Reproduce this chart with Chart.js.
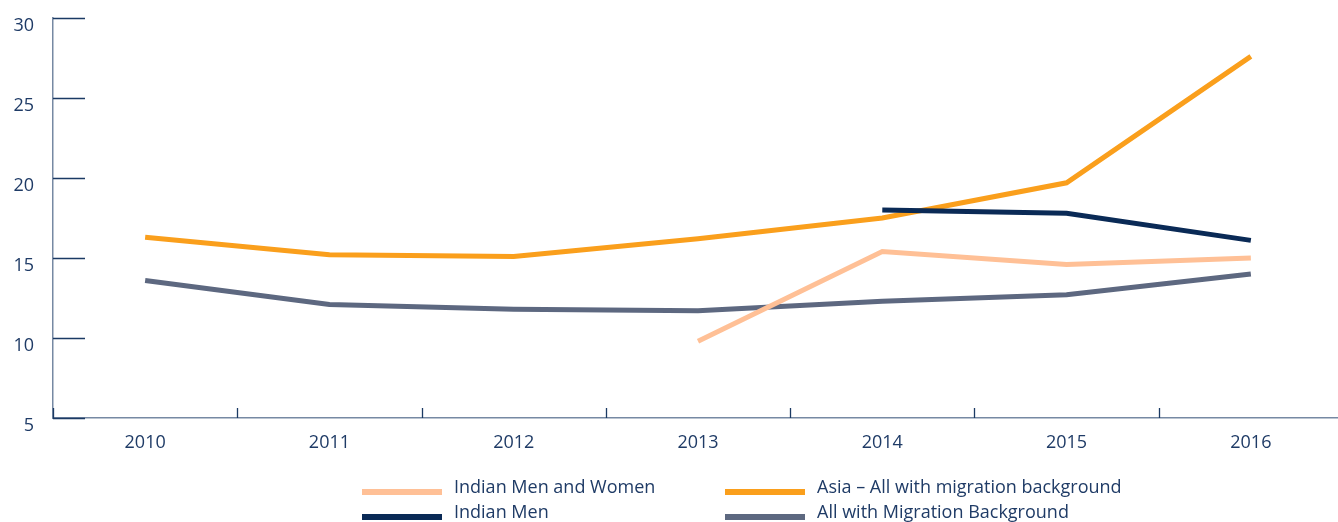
<!DOCTYPE html>
<html>
<head>
<meta charset="utf-8">
<script src="https://cdn.jsdelivr.net/npm/chart.js@4/dist/chart.umd.min.js"></script>
<style>
  html, body { margin: 0; padding: 0; background: #fff; overflow: hidden; }
  #wrap { position: absolute; left: 0; top: 0; width: 1343px; height: 522px; }
  #legend {
    position: absolute; left: 362px; top: 476px;
    display: grid; grid-template-columns: 363px auto; grid-auto-rows: 25.5px;
    font: 18px "Open Sans", sans-serif; color: #1f3b66;
  }
  #legend .item { display: flex; align-items: center; white-space: nowrap; }
  #legend .swatch { width: 80px; height: 6px; margin-right: 12px; position: relative; top: 3px; }
  #legend .txt { position: relative; top: -3px; }
</style>
</head>
<body>
<div id="wrap"><canvas id="chart"></canvas></div>
<div id="legend"></div>
<script>
/* ===== Data ===== */
const YEARS = ['2010', '2011', '2012', '2013', '2014', '2015', '2016'];
const INDIAN_ALL   = [null, null, null, 9.8, 15.4, 14.6, 15.0];
const ASIA_MIGR    = [16.3, 15.2, 15.1, 16.2, 17.5, 19.7, 27.6];
const INDIAN_MEN   = [null, null, null, null, 18.0, 17.8, 16.1];
const ALL_MIGR     = [13.6, 12.1, 11.8, 11.7, 12.3, 12.7, 14.0];
const Y_MIN = 5, Y_MAX = 30, Y_STEP = 5;

const TEXT = '#1f3b66';
const AXIS = '#7689a3';
const TICK = '#1b3a64';
const FONT = { family: '"Open Sans", sans-serif', size: 18 };

function series(label, data, color, order) {
  return {
    label, data, order,
    borderColor: color, backgroundColor: color,
    borderWidth: 5, pointRadius: 0, tension: 0,
    borderJoinStyle: 'miter', borderCapStyle: 'butt', spanGaps: false
  };
}

// short inner tick marks instead of full grid lines
const innerTicks = {
  id: 'innerTicks',
  afterDraw(chart) {
    const { ctx, chartArea: a, scales: { x, y } } = chart;
    ctx.save();
    ctx.strokeStyle = TICK;
    ctx.lineWidth = 1.3;
    ctx.beginPath();
    y.ticks.forEach(t => {
      const py = Math.round(y.getPixelForValue(t.value)) + 0.5;
      ctx.moveTo(a.left, py);
      ctx.lineTo(a.left + 32, py);
    });
    const step = x.getPixelForValue(1) - x.getPixelForValue(0);
    for (let i = 0; i <= YEARS.length; i++) {
      const px = Math.round(x.getPixelForValue(i) - step / 2) + 0.5;
      ctx.moveTo(px, a.bottom);
      ctx.lineTo(px, a.bottom - 10);
    }
    ctx.stroke();
    ctx.restore();
  }
};

const chart = new Chart(document.getElementById('chart'), {
  type: 'line',
  data: {
    labels: YEARS,
    datasets: [
      series('Indian Men and Women', INDIAN_ALL, '#ffc096', 0),
      series('Asia – All with migration background', ASIA_MIGR, '#fa9f1c', 2),
      series('Indian Men', INDIAN_MEN, '#0a2a56', 1),
      series('All with Migration Background', ALL_MIGR, '#5d6880', 3)
    ]
  },
  options: {
    responsive: true,
    maintainAspectRatio: false,
    animation: false,
    layout: { padding: { top: 18, left: 0, right: 0, bottom: 0 } },
    plugins: { legend: { display: false }, tooltip: { enabled: false } },
    scales: {
      x: {
        offset: true,
        grid: { display: false, offset: true },
        border: { display: true, color: AXIS, width: 1.5 },
        ticks: { color: TEXT, font: FONT, padding: 6, maxRotation: 0 },
        afterFit(s) { s.height = 104; s.paddingLeft = 0; s.paddingRight = 0; }
      },
      y: {
        min: Y_MIN, max: Y_MAX,
        grid: { display: false },
        border: { display: true, color: AXIS, width: 1.5 },
        ticks: { stepSize: Y_STEP, color: TEXT, font: FONT, padding: 11, labelOffset: 8 },
        afterFit(s) { s.width = 53; s.paddingTop = 0; s.paddingBottom = 0; }
      }
    }
  },
  plugins: [innerTicks]
});

// ===== HTML legend (2 x 2 grid) =====
document.getElementById('legend').innerHTML = chart.data.datasets.map(d => `
  <div class="item"><span class="swatch" style="background:${d.borderColor}"></span><span class="txt">${d.label}</span></div>
`).join('');
</script>
</body>
</html>
